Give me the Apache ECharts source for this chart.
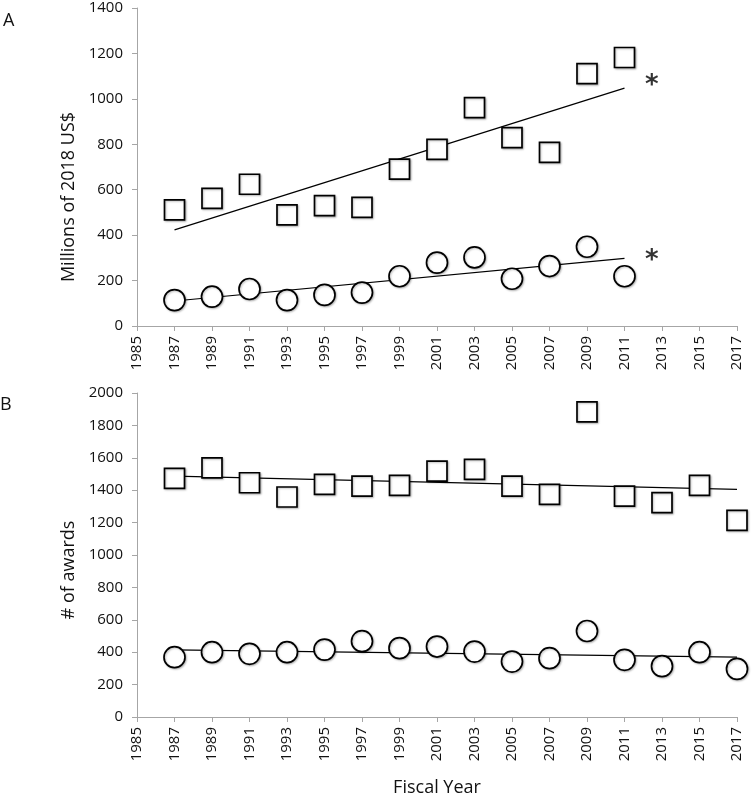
<!DOCTYPE html>
<html>
<head>
<meta charset="utf-8">
<script src="https://cdn.jsdelivr.net/npm/echarts@6/dist/echarts.min.js"></script>
<style>html,body{margin:0;padding:0;background:#fff;}#c{width:754px;height:798px;}</style>
</head>
<body>
<div id="c"></div>
<script>
// ---- data ----
const yearsA = [1987,1989,1991,1993,1995,1997,1999,2001,2003,2005,2007,2009,2011];
const dollarsSquares = [511,562,624,489,530,522,691,778,961,829,764,1111,1182];
const dollarsCircles = [114,129,163,114,137,147,219,279,302,208,264,349,219];
const trendYearsA = [1987, 2011];
const trendDollarsSquares = [423, 1047];
const trendDollarsCircles = [110, 298];
const asteriskYear = 2012.45;
const asteriskValuesA = [1083, 313];

const yearsB = [1987,1989,1991,1993,1995,1997,1999,2001,2003,2005,2007,2009,2011,2013,2015,2017];
const awardsSquares = [1473,1538,1446,1358,1436,1425,1430,1518,1528,1425,1374,1883,1364,1323,1430,1214];
const awardsCircles = [369,400,390,400,416,468,425,435,404,342,363,531,353,314,400,297];
const trendYearsB = [1987, 2017];
const trendAwardsSquares = [1487, 1405];
const trendAwardsCircles = [414, 369];

const xMinYear = 1985, xMaxYear = 2017, xStep = 2;
const yMaxA = 1400, yMaxB = 2000, yStep = 200;

// ---- helpers ----
const FONT = '"Open Sans", "Liberation Sans", sans-serif';
const off = y => y - xMinYear;
const pts = (xs, ys) => xs.map((x, i) => [off(x), ys[i]]);

const markerStyle = {color: '#fff', borderColor: '#000', borderWidth: 1.7, opacity: 1,
  shadowBlur: 2, shadowColor: 'rgba(0,0,0,0.25)', shadowOffsetX: 1, shadowOffsetY: 1};

function xAxis(gi, showName) {
  return {
    type: 'value', gridIndex: gi, min: 0, max: xMaxYear - xMinYear, interval: xStep,
    axisLine: {show: true, lineStyle: {color: '#a6a6a6', width: 1}},
    axisTick: {show: true, inside: false, length: 5, lineStyle: {color: '#a6a6a6'}},
    splitLine: {show: false},
    axisLabel: {rotate: 90, margin: 10, fontSize: 15, color: '#111', fontFamily: FONT,
      formatter: v => String(v + xMinYear)},
    name: showName ? 'Fiscal Year' : '', nameLocation: 'middle', nameGap: 62,
    nameTextStyle: {fontSize: 18, color: '#111', fontFamily: FONT}
  };
}
function yAxis(gi, max, name, pad) {
  return {
    type: 'value', gridIndex: gi, min: 0, max: max, interval: yStep,
    axisLine: {show: true, lineStyle: {color: '#a6a6a6', width: 1}},
    axisTick: {show: true, inside: false, length: 5, lineStyle: {color: '#a6a6a6'}},
    splitLine: {show: false},
    axisLabel: {margin: 14, fontSize: 15, color: '#111', fontFamily: FONT,
      formatter: v => String(v)},
    name: name, nameLocation: 'middle', nameGap: 57, nameRotate: 90,
    nameTextStyle: {fontSize: 18, color: '#111', fontFamily: FONT, padding: [0, pad, 0, 0]}
  };
}
function scatter(xi, data, symbol, size) {
  return {type: 'scatter', xAxisIndex: xi, yAxisIndex: xi, data: data, symbol: symbol,
    symbolSize: size, itemStyle: markerStyle, z: 3, silent: true};
}
function trend(xi, data) {
  return {type: 'line', xAxisIndex: xi, yAxisIndex: xi, data: data, symbol: 'none',
    lineStyle: {color: '#000', width: 1.2}, z: 2, silent: true};
}

const chart = echarts.init(document.getElementById('c'), null, {renderer: 'canvas'});
chart.setOption({
  backgroundColor: '#fff',
  animation: false,
  grid: [
    {left: 137, right: 17, top: 8, height: 318},
    {left: 137, right: 17, top: 393, height: 325}
  ],
  xAxis: [xAxis(0, false), xAxis(1, true)],
  yAxis: [yAxis(0, yMaxA, 'Millions of 2018 US$', 60), yAxis(1, yMaxB, '# of awards', 30)],
  graphic: [
    {type: 'text', left: 3, top: 12, style: {text: 'A', fontSize: 18, fill: '#111', fontFamily: FONT}},
    {type: 'text', left: 0, top: 396, style: {text: 'B', fontSize: 18, fill: '#111', fontFamily: FONT}}
  ],
  series: [
    trend(0, pts(trendYearsA, trendDollarsSquares)),
    trend(0, pts(trendYearsA, trendDollarsCircles)),
    scatter(0, pts(yearsA, dollarsSquares), 'rect', 20),
    scatter(0, pts(yearsA, dollarsCircles), 'circle', 21),
    {type: 'scatter', xAxisIndex: 0, yAxisIndex: 0, symbolSize: 2,
      itemStyle: {color: 'rgba(0,0,0,0)'}, z: 4,
      data: asteriskValuesA.map(v => [off(asteriskYear), v]), silent: true,
      label: {show: true, position: 'inside', formatter: '*', fontSize: 26, fontWeight: 'bold',
        color: '#000', fontFamily: '"DejaVu Sans", sans-serif', offset: [0, 6]}},
    trend(1, pts(trendYearsB, trendAwardsSquares)),
    trend(1, pts(trendYearsB, trendAwardsCircles)),
    scatter(1, pts(yearsB, awardsSquares), 'rect', 20),
    scatter(1, pts(yearsB, awardsCircles), 'circle', 21)
  ]
});
</script>
</body>
</html>
